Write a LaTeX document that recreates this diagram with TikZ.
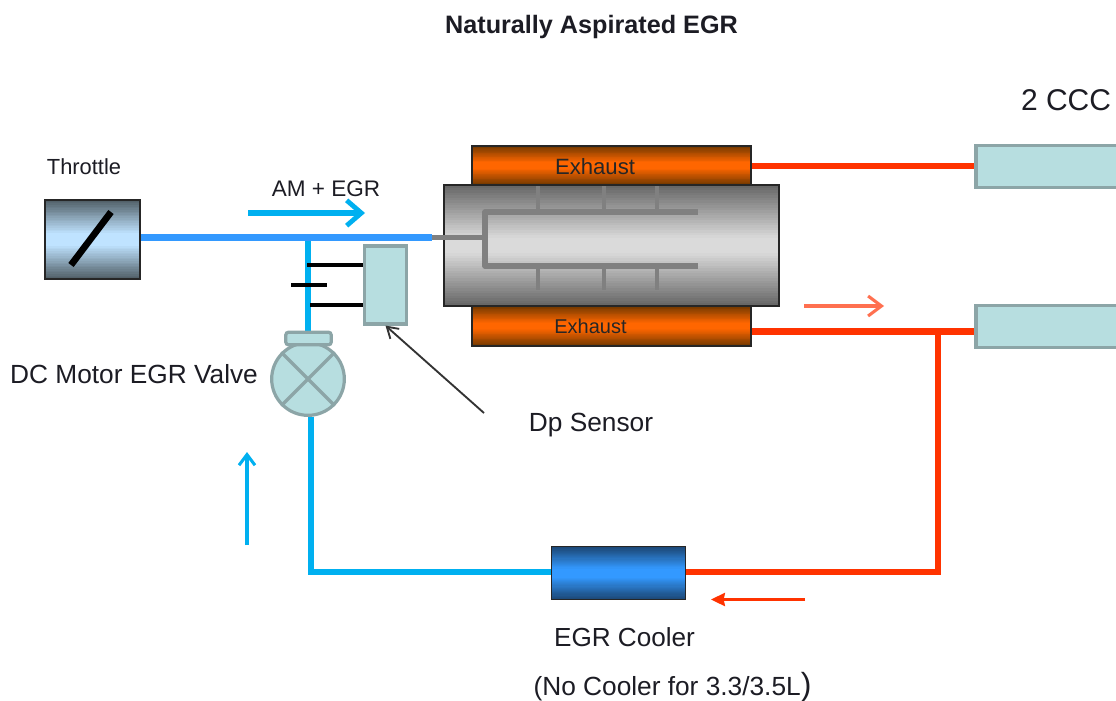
\documentclass[tikz,border=0pt]{standalone}
\usepackage{fontspec}
\setmainfont{Liberation Sans}
\usetikzlibrary{arrows.meta}
\definecolor{txt}{HTML}{1C1C24}
\definecolor{pipeblue}{HTML}{3399FF}
\definecolor{pipecyan}{HTML}{00B0F0}
\definecolor{pipered}{HTML}{FF3300}
\definecolor{boxfill}{HTML}{B7DEE0}
\definecolor{boxline}{HTML}{8CA5A7}
\definecolor{manigray}{HTML}{808080}
\definecolor{exdark}{HTML}{703800}
\definecolor{exmid}{HTML}{FF6600}
\definecolor{cooldark}{HTML}{1B4470}
\definecolor{thrdark}{HTML}{505E66}
\definecolor{thrmid}{HTML}{BFE3FF}
\definecolor{engdark}{HTML}{666666}
\definecolor{engmid}{HTML}{DADADA}
\definecolor{salmon}{HTML}{FF7050}
\newcommand{\px}[1]{\fontsize{#1}{#1}\selectfont}
% gradient band: x1,y1,x2,y2,edge colour,middle colour,ramp (0..1 of half height)
\newcommand{\gradband}[7]{%
  \foreach \gi in {0,...,47} {%
    \pgfmathsetmacro{\gya}{#2+(#4-#2)*\gi/48}%
    \pgfmathsetmacro{\gyb}{#2+(#4-#2)*(\gi+1)/48+(\gi<47?0.6:0)}%
    \pgfmathtruncatemacro{\gpct}{100*min(1,(1-abs(\gi+0.5-24)/24)/#7)}%
    \fill[#6!\gpct!#5] (#1,\gya) rectangle (#3,\gyb);%
  }%
}
\tikzset{
  lbl/.style={inner sep=0pt,text=txt,anchor=center},
  outlinebox/.style={draw=black!85,line width=1.2pt,inner sep=0pt,anchor=center},
  palebox/.style={draw=boxline,fill=boxfill,line width=2.4pt,inner sep=0pt,anchor=center},
  pipe/.style={line width=5.2pt},
  blackbar/.style={line width=2.6pt,black},
  manifold/.style={line width=3.8pt,manigray,line join=round},
  stub/.style={line width=3.6pt,manigray},
}
\begin{document}
\begin{tikzpicture}[x=0.75pt,y=-0.75pt]
\useasboundingbox (0,0) rectangle (1116,700);
\clip (0,0) rectangle (1116,700);
\fill[white] (0,0) rectangle (1116,700);

% Text labels
\node[lbl,font=\bfseries\px{18.9pt}] (title) at (591.5,27) {Naturally Aspirated EGR};
\node[lbl,font=\px{22.5pt}] (ccc) at (1066,100) {2 CCC};
\node[lbl,font=\px{16.4pt}] (thrlab) at (84,167) {Throttle};
\node[lbl,font=\px{16.9pt}] (amlab) at (326,189) {AM + EGR};
\node[lbl,font=\px{19.7pt}] (dclab) at (134,374) {DC Motor EGR Valve};
\node[lbl,font=\px{19.7pt}] (dplab) at (591,425.5) {Dp Sensor};
\node[lbl,font=\px{19.6pt}] (coollab) at (624.5,637) {EGR Cooler};
\node[lbl,font=\px{19.7pt}] (nolab) at (672.5,687) {(No Cooler for 3.3/3.5L{\px{24pt})}};

% Exhaust manifolds and engine
\gradband{472}{146}{751}{185}{exdark}{exmid}{0.85}
\gradband{472}{306}{751}{346}{exdark}{exmid}{0.85}
\gradband{444}{185}{779}{306}{engdark}{engmid}{0.88}
\node[outlinebox,minimum width=209.25pt,minimum height=29.2pt] (exA) at (611.5,165.5) {};
\node[outlinebox,minimum width=209.25pt,minimum height=30pt] (exB) at (611.5,326) {};
\node[inner sep=0pt,text=black!85,font=\px{16.6pt}] (exAt) at (595,167) {Exhaust};
\node[inner sep=0pt,text=black!85,font=\px{15pt}] (exBt) at (590.5,326) {Exhaust};
\node[outlinebox,minimum width=251.25pt,minimum height=90.75pt] (engine) at (611.5,245.5) {};

% Intake manifold inside the engine
\coordinate (intakeIn) at (432,237.7);
\coordinate (plenum) at (485,237.7);
\coordinate (railAe) at (698,212);
\coordinate (railBe) at (698,266);
\draw[manifold] (railAe) -- (485,212) -- (485,266) -- (railBe);
\draw[manifold] (intakeIn) -- (plenum);
\foreach \sx in {538,604,657} {
  \draw[stub] (\sx,212) -- (\sx,186);
  \draw[stub] (\sx,266) -- (\sx,290);
}

% Throttle
\gradband{45}{200}{140}{279}{thrdark}{thrmid}{0.85}
\node[outlinebox,minimum width=71.25pt,minimum height=59.6pt] (throttle) at (92.5,239.5) {};
\coordinate (plateA) at (71,265);
\coordinate (plateB) at (111,212);
\draw[line width=5pt,black] (plateA) -- (plateB);

% Blue and cyan pipes
\coordinate (junction) at (308,237.7);
\coordinate (capTop) at (308,333);
\draw[pipe,pipecyan] (junction) -- (capTop);
\draw[pipe,pipeblue] (throttle.east |- junction) -- (intakeIn);
\coordinate (lowcorner) at (311,572);

% Valve
\node[draw=boxline,fill=boxfill,line width=2.4pt,circle,minimum size=54.5pt,inner sep=0pt] (valve) at (308,379) {};
\draw[boxline,line width=2.4pt] (valve.45) -- (valve.225) (valve.135) -- (valve.315);
\node[palebox,rounded corners=2pt,minimum width=34pt,minimum height=9.5pt] (cap) at (308.5,338.5) {};

% Dp sensor
\node[palebox,minimum width=31pt,minimum height=58.5pt] (dp) at (385.5,285) {};

% Catalysts
\node[palebox,minimum width=120pt,minimum height=31pt] (catA) at (1056,166.5) {};
\node[palebox,minimum width=120pt,minimum height=31pt] (catB) at (1056,326.5) {};

% Cooler
\gradband{551}{546}{686}{600}{cooldark}{pipeblue}{0.85}
\node[outlinebox,minimum width=100.5pt,minimum height=40pt] (cooler) at (618.5,573) {};

% Cooled return pipe
\draw[pipe,pipecyan,line join=miter] (valve.south -| lowcorner) -- (lowcorner) -- (cooler.west |- lowcorner);

% Red pipes
\coordinate (redB) at (exB.east |- 0,331.5);
\coordinate (tee) at (938,331.5);
\coordinate (redcorner) at (938,572);
\draw[pipe,pipered] (exA.east |- 0,166) -- (catA.west |- 0,166);
\draw[pipe,pipered] (redB) -- (catB.west |- redB);
\draw[pipe,pipered,line join=miter] (tee) -- (redcorner) -- (cooler.east |- redcorner);

% Dp sensor tubes
\coordinate (tubeA) at (307,265);
\coordinate (tubeB) at (310,305);
\draw[blackbar] (tubeA) -- (dp.west |- tubeA);
\draw[blackbar] (tubeB) -- (dp.west |- tubeB);
\coordinate (barL) at (291,285);
\coordinate (barR) at (327,285);
\draw[blackbar] (barL) -- (barR);

% Flow arrows
\coordinate (fa1) at (248,213); \coordinate (fa2) at (365,213);
\draw[line width=3.9pt,pipecyan,-{Straight Barb[length=11pt,width=19pt,line width=3.6pt]}] (fa1) -- (fa2);
\coordinate (fb1) at (247,545); \coordinate (fb2) at (247,452);
\draw[line width=2.3pt,pipecyan,-{Straight Barb[length=8pt,width=12pt]}] (fb1) -- (fb2);
\coordinate (fc1) at (804,306); \coordinate (fc2) at (884,306);
\draw[line width=2.3pt,salmon,-{Straight Barb[length=10pt,width=15pt]}] (fc1) -- (fc2);
\coordinate (fd1) at (805,599.5); \coordinate (fd2) at (711,599.5);
\draw[line width=1.6pt,pipered,-{Stealth[length=10.5pt,width=10pt,inset=1pt]}] (fd1) -- (fd2);

% Dp leader
\coordinate (lead) at (484,413);
\draw[line width=1.4pt,black!80,-{Straight Barb[length=8pt,width=10pt]}] (lead) -- (dp.south);
\end{tikzpicture}
\end{document}
